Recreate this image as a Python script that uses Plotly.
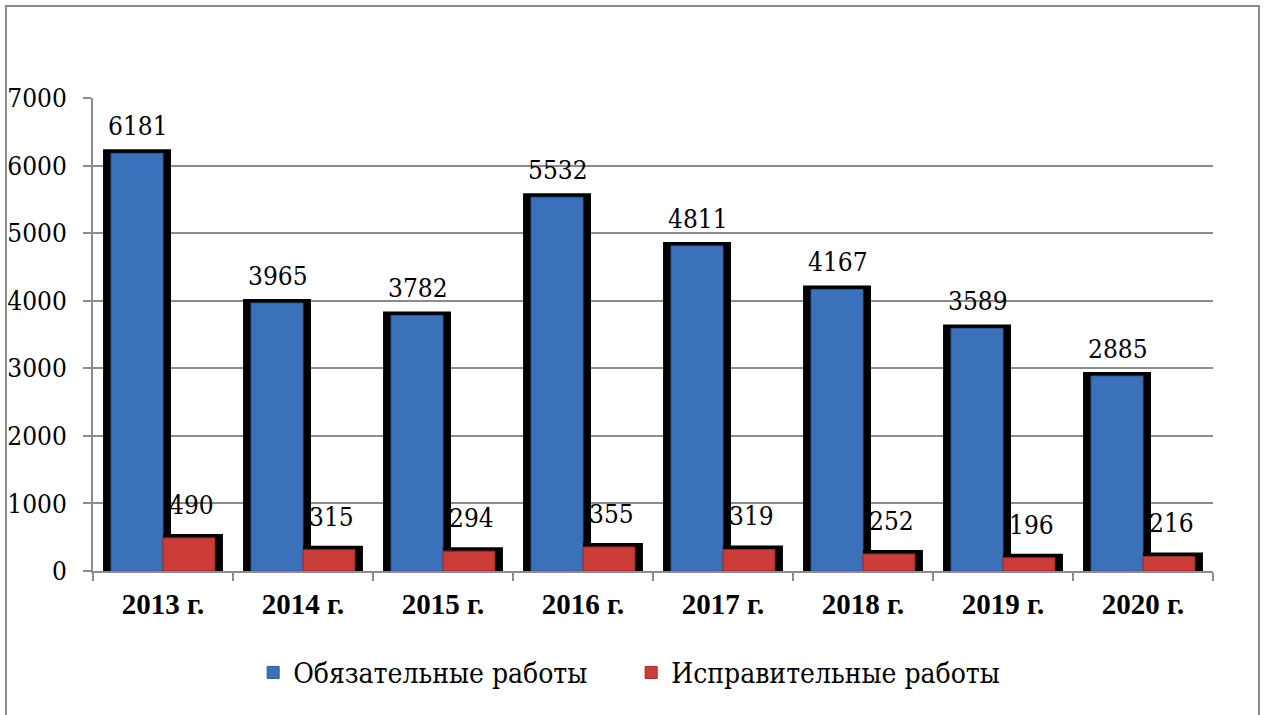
import plotly.graph_objects as go

# Data
years = ["2013 г.", "2014 г.", "2015 г.", "2016 г.", "2017 г.", "2018 г.", "2019 г.", "2020 г."]
mandatory_work = [6181, 3965, 3782, 5532, 4811, 4167, 3589, 2885]
corrective_work = [490, 315, 294, 355, 319, 252, 196, 216]

BLUE = "#3b71bb"
RED = "#cb3d39"
GRID = "#8c8c8c"
FONT_REG = "DejaVu Serif Condensed, DejaVu Serif"
FONT_BOLD = "Liberation Serif"

# Geometry of the bars in category units (one category = 1.0)
BAR_W = 0.371
SH = 0.0286   # half of the shadow stroke, in category units

fig = go.Figure()

# black "shadow" behind the blue bars
fig.add_trace(go.Bar(
    x=years, y=mandatory_work, offset=-BAR_W - SH, width=BAR_W + 2 * SH,
    marker=dict(color="black", line=dict(color="black", width=8)),
    showlegend=False, hoverinfo="skip",
))
fig.add_trace(go.Bar(
    x=years, y=mandatory_work, offset=-BAR_W, width=BAR_W,
    name="Обязательные работы",
    marker=dict(color=BLUE, line=dict(color="#2d5a96", width=1)),
))
# shadow behind the red bars
fig.add_trace(go.Bar(
    x=years, y=corrective_work, offset=SH, width=BAR_W,
    marker=dict(color="black", line=dict(color="black", width=8)),
    showlegend=False, hoverinfo="skip",
))
fig.add_trace(go.Bar(
    x=years, y=corrective_work, offset=0, width=BAR_W,
    name="Исправительные работы",
    marker=dict(color=RED, line=dict(color="#9e2a27", width=1)),
))

# value labels
for yr, v in zip(years, mandatory_work):
    fig.add_annotation(x=yr, y=v, text=str(v), showarrow=False,
                       xshift=-25, yshift=10, yanchor="bottom",
                       font=dict(family=FONT_REG, size=26, color="black"))
for yr, v in zip(years, corrective_work):
    fig.add_annotation(x=yr, y=v, text=str(v), showarrow=False,
                       xshift=28, yshift=16, yanchor="bottom",
                       font=dict(family=FONT_REG, size=26, color="black"))

# outer frame of the chart
fig.add_shape(type="rect", xref="paper", yref="paper",
              x0=(6 - 93) / 1120, x1=(1259 - 93) / 1120,
              y0=-0.4, y1=(571 - 6) / 473,
              line=dict(color=GRID, width=2), layer="below")

fig.update_layout(
    width=1264, height=715,
    barmode="overlay",
    margin=dict(l=93, r=51, t=98, b=144, autoexpand=False),
    plot_bgcolor="white",
    paper_bgcolor="white",
    font=dict(family=FONT_REG, size=26, color="black"),
    legend=dict(
        orientation="h", x=0.143, xanchor="left", y=-0.215, yanchor="middle",
        font=dict(family=FONT_REG, size=28, color="black"),
        entrywidth=333,
    ),
    xaxis=dict(
        range=[-0.5, len(years) - 0.5],
        automargin=False,
        showline=True, linecolor=GRID, linewidth=2,
        ticks="outside", tickson="boundaries", ticklen=8, tickcolor=GRID, tickwidth=2,
        ticklabelstandoff=6,
        tickfont=dict(family=FONT_BOLD, size=29, color="black", weight="bold"),
        showgrid=False,
    ),
    yaxis=dict(
        range=[0, 7000], dtick=1000,
        automargin=False,
        showline=True, linecolor=GRID, linewidth=2,
        ticks="outside", ticklen=8, tickcolor=GRID, tickwidth=2,
        ticklabelstandoff=11,
        showgrid=True, gridcolor=GRID, gridwidth=2,
        zeroline=False,
        tickfont=dict(family=FONT_REG, size=26, color="black"),
    ),
)

# drop the default page margin so the figure sits at the window's corner
fig.write_html("out.html", config={"displayModeBar": False},
               post_script="document.body.style.margin = '0';")
